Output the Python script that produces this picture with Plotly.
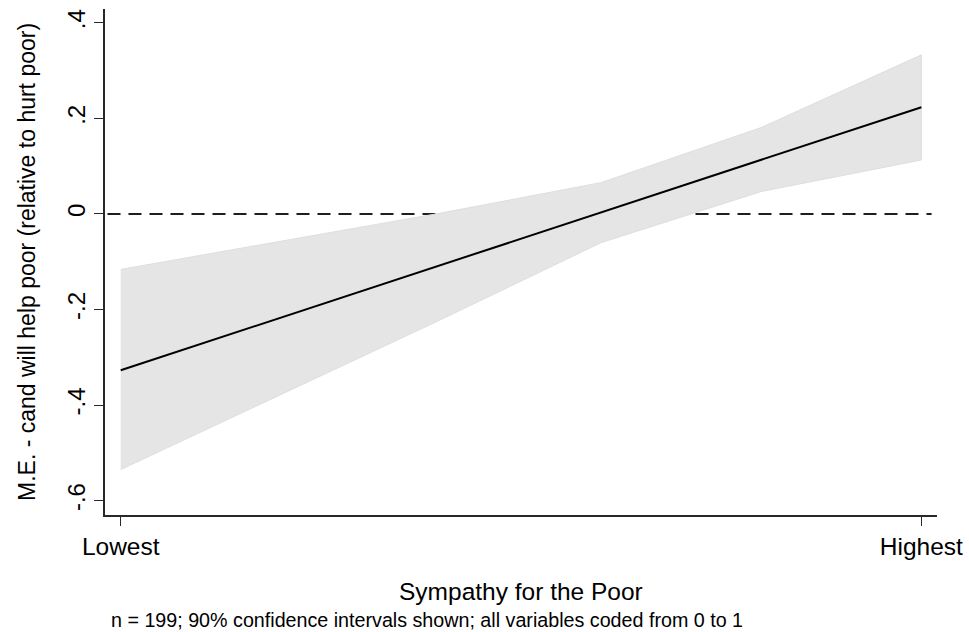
import plotly.graph_objects as go

# Data
sympathy = [0.0, 0.2, 0.4, 0.6, 0.8, 1.0]
marginal_effect = [-0.327, -0.217, -0.107, 0.003, 0.113, 0.2235]
ci_upper = [-0.116, -0.057, 0.002, 0.0656, 0.181, 0.333]
ci_lower = [-0.535, -0.378, -0.221, -0.060, 0.047, 0.113]

y_tickvals = [-0.6, -0.4, -0.2, 0.0, 0.2, 0.4]
y_ticktext = ["-.6", "-.4", "-.2", "0", ".2", ".4"]
x_tickvals = [0, 1]
x_ticktext = ["Lowest", "Highest"]

FONT = "Liberation Sans, Arial, Helvetica, sans-serif"

fig = go.Figure()

fig.add_trace(go.Scatter(
    x=sympathy + sympathy[::-1],
    y=ci_upper + ci_lower[::-1],
    fill="toself",
    fillcolor="rgb(229,229,229)",
    line=dict(color="rgb(222,222,222)", width=1),
    mode="lines",
    hoverinfo="skip",
    showlegend=False,
))

fig.add_trace(go.Scatter(
    x=sympathy,
    y=marginal_effect,
    mode="lines",
    line=dict(color="black", width=2),
    showlegend=False,
))

fig.add_shape(
    type="line", xref="paper", yref="y",
    x0=0.003, x1=0.9935, y0=0, y1=0,
    line=dict(color="rgb(30,30,30)", width=1.9, dash="13px,8px"),
    layer="below",
)

fig.update_layout(
    width=969, height=632,
    margin=dict(l=105, r=32, t=9, b=117, autoexpand=False),
    plot_bgcolor="white",
    paper_bgcolor="white",
    font=dict(family=FONT, color="black", size=23),
    showlegend=False,
)

fig.update_xaxes(
    range=[-0.0196, 1.0195],
    tickvals=x_tickvals, ticktext=x_ticktext,
    showline=True, linecolor="rgb(40,40,40)", linewidth=1.5,
    ticks="outside", ticklen=9, tickwidth=1.3, tickcolor="rgb(40,40,40)",
    showgrid=False, zeroline=False, automargin=False,
    tickfont=dict(size=24.5),
)

fig.update_yaxes(
    range=[-0.630, 0.429],
    tickvals=y_tickvals, ticktext=y_ticktext,
    tickangle=-90,
    showline=True, linecolor="rgb(40,40,40)", linewidth=1.5,
    ticks="outside", ticklen=9, tickwidth=1.3, tickcolor="rgb(40,40,40)",
    showgrid=False, zeroline=False, automargin=False,
    tickfont=dict(size=24),
)

fig.add_annotation(
    text="Sympathy for the Poor", xref="paper", yref="paper",
    x=0.5, y=0, xanchor="center", yanchor="middle", yshift=-76,
    showarrow=False, font=dict(size=24.5),
)
fig.add_annotation(
    text="n = 199; 90% confidence intervals shown; all variables coded from 0 to 1",
    xref="paper", yref="paper",
    x=0, y=0, xanchor="left", yanchor="middle", xshift=4, yshift=-105,
    showarrow=False, font=dict(size=19.7),
)
fig.add_annotation(
    text="M.E. - cand will help poor (relative to hurt poor)",
    xref="paper", yref="paper",
    x=0, y=0.5, xanchor="center", yanchor="middle", xshift=-78,
    textangle=-90, showarrow=False, font=dict(size=23),
)

fig.write_html("out.html")
